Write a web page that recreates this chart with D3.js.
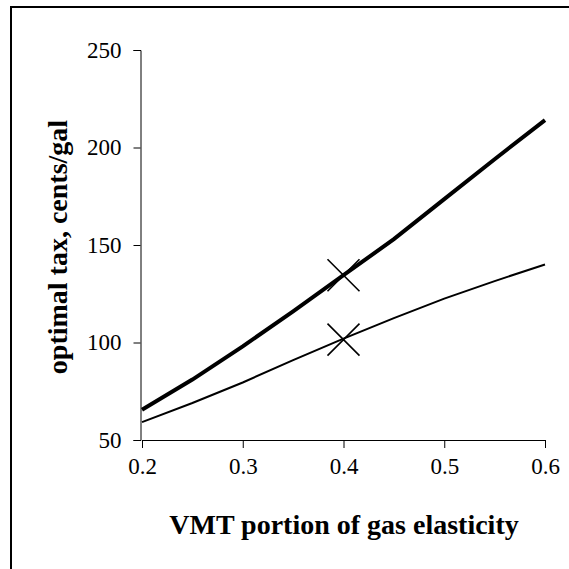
<!DOCTYPE html>
<html><head><meta charset="utf-8">
<script src="https://cdn.jsdelivr.net/npm/d3@7"></script>
<style>html,body{margin:0;padding:0;background:#fff;}svg{display:block;}</style>
</head><body>
<script>
const xValues = [0.2, 0.25, 0.3, 0.35, 0.4, 0.45, 0.5, 0.55, 0.6];
const thickSeries = [65.5, 81, 98, 116, 134.5, 153, 173.5, 194, 214];
const thinSeries = [59.2, 69, 79.5, 91, 102, 112.5, 122.5, 131.5, 140];
const markerPoints = [{x: 0.4, y: 134.5}, {x: 0.4, y: 101.5}];
const xTicks = [0.2, 0.3, 0.4, 0.5, 0.6];
const yTicks = [50, 100, 150, 200, 250];
const xTitle = "VMT portion of gas elasticity";
const yTitle = "optimal tax, cents/gal";

const W = 569, H = 569;
const svg = d3.select("body").append("svg").attr("width", W).attr("height", H);
svg.append("rect").attr("x", 11).attr("y", 7).attr("width", 700).attr("height", 700)
  .attr("fill", "#fff").attr("stroke", "#000").attr("stroke-width", 2);

const x = d3.scaleLinear().domain([0.2, 0.6]).range([142, 545]);
const y = d3.scaleLinear().domain([50, 250]).range([440, 50]);
const font = "'Liberation Serif', 'Times New Roman', serif";

const xAxis = svg.append("g").attr("transform", "translate(0,440)")
  .call(d3.axisBottom(x).tickValues(xTicks).tickSize(8).tickPadding(10).tickFormat(d3.format(".1f")));
const yAxis = svg.append("g").attr("transform", "translate(140.5,0)")
  .call(d3.axisLeft(y).tickValues(yTicks).tickSize(7).tickPadding(12).tickFormat(d3.format("d")));
[xAxis, yAxis].forEach(g => {
  g.select(".domain").attr("stroke", "#000");
  g.selectAll(".tick line").attr("stroke", "#000");
  g.selectAll("text").attr("font-family", font).attr("font-size", 23).attr("fill", "#000");
});

const line = d3.line().x((d, i) => x(xValues[i])).y(d => y(d));
svg.append("path").datum(thinSeries).attr("d", line).attr("fill", "none")
  .attr("stroke", "#000").attr("stroke-width", 2);
const mk = 16;
svg.selectAll(".mk").data(markerPoints).enter().append("path")
  .attr("d", d => {
    const cx = x(d.x), cy = y(d.y);
    return `M${cx-mk},${cy-mk}L${cx+mk},${cy+mk}M${cx-mk},${cy+mk}L${cx+mk},${cy-mk}`;
  })
  .attr("stroke", "#000").attr("stroke-width", 1.6).attr("fill", "none");
svg.append("path").datum(thickSeries).attr("d", line).attr("fill", "none")
  .attr("stroke", "#000").attr("stroke-width", 4);

svg.append("text").attr("x", 344).attr("y", 534).attr("text-anchor", "middle")
  .attr("font-family", font).attr("font-weight", "bold").attr("font-size", 28).text(xTitle);
svg.append("text").attr("transform", "translate(67,247) rotate(-90)").attr("text-anchor", "middle")
  .attr("font-family", font).attr("font-weight", "bold").attr("font-size", 28).text(yTitle);
</script>
</body></html>
